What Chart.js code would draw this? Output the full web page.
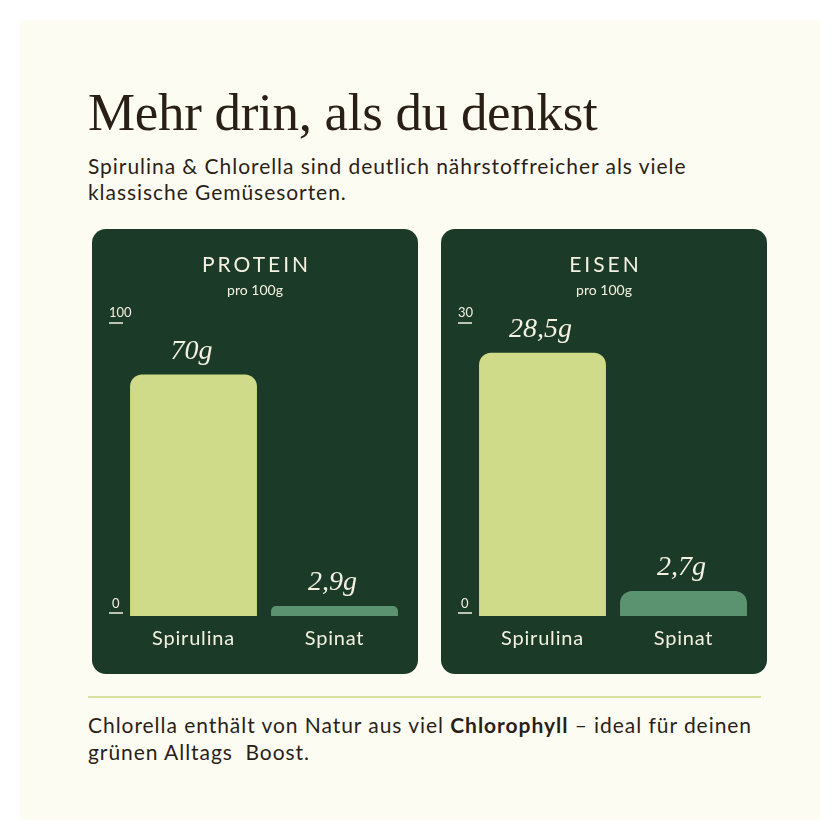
<!DOCTYPE html>
<html lang="de">
<head>
<meta charset="utf-8">
<script src="https://cdn.jsdelivr.net/npm/chart.js@4.4.1/dist/chart.umd.min.js"></script>
<style>
  html, body { margin:0; padding:0; background:#ffffff; width:840px; height:840px; overflow:hidden; }
  #card { position:absolute; left:20px; top:20px; width:800px; height:800px; background:#fdfcf3; }
  .txt { position:absolute; color:#2a1f17; white-space:nowrap; }
  #title { left:88px; top:82px; font-family:"Liberation Serif", serif; font-size:53px; line-height:60px; letter-spacing:-0.3px; }
  #sub { left:88px; top:153px; font-family:"Lato", sans-serif; font-size:21px; line-height:26px; letter-spacing:0.95px; }
  #foot { left:88px; top:711px; font-family:"Lato", sans-serif; font-size:21px; line-height:27px; letter-spacing:0.95px; }
  #rule { position:absolute; left:88px; top:696px; width:673px; height:2px; background:#d6e29c; }
  .panel { position:absolute; top:229px; width:326px; height:445px; background:#1b3a27; border-radius:14px; }
  .panel canvas { position:absolute; left:0; top:0; }
</style>
</head>
<body>
<div id="card"></div>
<div class="txt" id="title">Mehr drin, als du denkst</div>
<div class="txt" id="sub">Spirulina &amp; Chlorella sind deutlich nährstoffreicher als viele<br>klassische Gemüsesorten.</div>
<div class="panel" style="left:92px"><canvas id="c1" width="326" height="445"></canvas></div>
<div class="panel" style="left:441px"><canvas id="c2" width="326" height="445"></canvas></div>
<div id="rule"></div>
<div class="txt" id="foot">Chlorella enthält von Natur aus viel <b>Chlorophyll</b> – ideal für deinen<br>grünen Alltags&nbsp; Boost.</div>
<script>
// ---- data ----
const categories = ["Spirulina", "Spinat"];
const proteinValues = [70, 2.9];
const proteinLabels = ["70g", "2,9g"];
const eisenValues = [28.5, 2.7];
const eisenLabels = ["28,5g", "2,7g"];
const proteinTicks = ["100", "0"];
const eisenTicks = ["30", "0"];
const proteinMax = 100;
const eisenMax = 30;
const panelTitles = ["PROTEIN", "EISEN"];
const panelSubtitle = "pro 100g";

const CREAM = "#f4f1e2";
const barColors = ["#cfdb88", "#5b9371"];

const decor = {
  id: "decor",
  beforeDraw(chart) {
    try { chart.ctx.letterSpacing = "0.8px"; } catch(e) {}
  },
  afterDraw(chart, args, opts) {
    const ctx = chart.ctx;
    const w = chart.width;
    ctx.save();
    ctx.fillStyle = CREAM;
    ctx.textAlign = "center";
    ctx.textBaseline = "alphabetic";
    ctx.font = "400 21px Lato, sans-serif";
    try { ctx.letterSpacing = "3px"; } catch(e) {}
    ctx.fillText(opts.title, w / 2 + 1.5, 43);
    try { ctx.letterSpacing = "0px"; } catch(e) {}
    ctx.font = "400 14px Lato, sans-serif";
    ctx.fillText(opts.subtitle, w / 2, 66);
    // axis labels
    ctx.textAlign = "left";
    ctx.font = "400 13px Lato, sans-serif";
    const xs = 17;
    const topY = 88, botY = 379;
    ctx.fillText(opts.ticks[0], xs, topY);
    ctx.fillText(opts.ticks[1], xs + 3, botY);
    ctx.strokeStyle = CREAM;
    ctx.lineWidth = 1.3;
    ctx.beginPath();
    ctx.moveTo(xs, topY + 6); ctx.lineTo(xs + 14, topY + 6);
    ctx.moveTo(xs, botY + 5); ctx.lineTo(xs + 14, botY + 5);
    ctx.stroke();
    // value labels
    const meta = chart.getDatasetMeta(0);
    ctx.textAlign = "center";
    ctx.font = "italic 400 28px 'Liberation Serif', serif";
    meta.data.forEach((bar, i) => {
      ctx.fillText(opts.labels[i], bar.x - 2, bar.y - 16);
    });
    ctx.restore();
  }
};

function makeChart(id, values, labels, max, ticks, title, padTop) {
  return new Chart(document.getElementById(id), {
    type: "bar",
    data: {
      labels: categories,
      datasets: [{
        data: values,
        backgroundColor: barColors,
        borderRadius: { topLeft: 12, topRight: 12, bottomLeft: 0, bottomRight: 0 },
        borderSkipped: "bottom",
        categoryPercentage: 1.0,
        barPercentage: 0.9
      }]
    },
    options: {
      responsive: false,
      animation: false,
      events: [],
      layout: { padding: { top: padTop, left: 31, right: 13, bottom: 12 } },
      plugins: {
        legend: { display: false },
        tooltip: { enabled: false },
        title: { display: false },
        decor: { title: title, subtitle: panelSubtitle, labels: labels, ticks: ticks }
      },
      scales: {
        y: { display: false, min: 0, max: max },
        x: {
          grid: { display: false, drawTicks: false },
          border: { display: false },
          ticks: { color: CREAM, font: { family: "Lato, sans-serif", size: 20 }, padding: 11 }
        }
      }
    },
    plugins: [decor]
  });
}

makeChart("c1", proteinValues, proteinLabels, proteinMax, proteinTicks, panelTitles[0], 42);
makeChart("c2", eisenValues, eisenLabels, eisenMax, eisenTicks, panelTitles[1], 110);
</script>
</body>
</html>
